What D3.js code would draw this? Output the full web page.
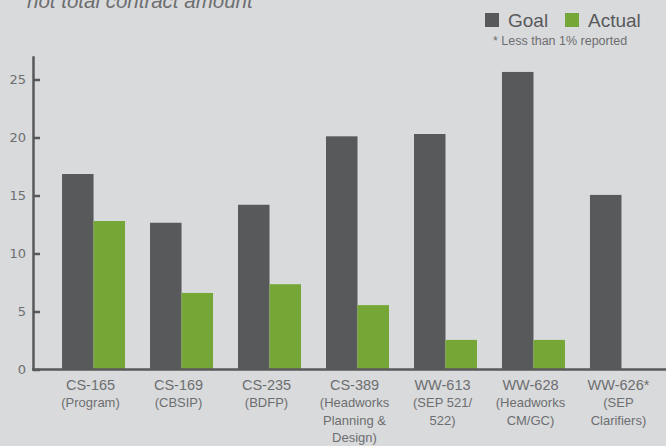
<!DOCTYPE html>
<html>
<head>
<meta charset="utf-8">
<script src="https://cdn.jsdelivr.net/npm/d3@7"></script>
<style>
  body { margin: 0; background: #d9dadc; }
  svg { display: block; }
  text { font-family: "Liberation Sans", Arial, sans-serif; }
</style>
</head>
<body>
<div class="chart"></div>
<script>
// projects and their sub-labels (multi-line)
var projects = ["CS-165", "CS-169", "CS-235", "CS-389", "WW-613", "WW-628", "WW-626*"];
var subLabels = [
  ["(Program)"],
  ["(CBSIP)"],
  ["(BDFP)"],
  ["(Headworks", "Planning &", "Design)"],
  ["(SEP 521/", "522)"],
  ["(Headworks", "CM/GC)"],
  ["(SEP", "Clarifiers)"]
];
var goal   = [16.85, 12.65, 14.2, 20.1, 20.3, 25.65, 15.05];
var actual = [12.8, 6.6, 7.35, 5.55, 2.55, 2.55, 0];
var yTicks = [0, 5, 10, 15, 20, 25];
var seriesNames = ["Goal", "Actual"];
var colors = {"Goal": "#58595b", "Actual": "#76a736"};

var width = 666, height = 446;

var svg = d3.select(".chart").append("svg")
    .attr("width", width)
    .attr("height", height);

svg.append("rect")
    .attr("width", width)
    .attr("height", height)
    .style("fill", "#d9dadc");

var x = d3.scaleBand()
    .domain(projects)
    .range([33, 682])
    .paddingInner(0.284)
    .paddingOuter(0.33);

var xSub = d3.scaleBand()
    .domain(seriesNames)
    .range([0, x.bandwidth()]);

var y = d3.scaleLinear()
    .domain([0, 27.05])
    .range([369.5, 55.7]);

// bars
var rows = projects.map(function(p, i) {
  return {name: p, values: [{key: "Goal", v: goal[i]}, {key: "Actual", v: actual[i]}]};
});

var groups = svg.selectAll(".group")
    .data(rows)
  .enter().append("g")
    .attr("class", "group")
    .attr("transform", function(d) { return "translate(" + x(d.name) + ",0)"; });

groups.selectAll("rect")
    .data(function(d) { return d.values; })
  .enter().append("rect")
    .attr("x", function(d) { return xSub(d.key); })
    .attr("width", xSub.bandwidth())
    .attr("y", function(d) { return y(d.v); })
    .attr("height", function(d) { return y(0) - y(d.v); })
    .style("fill", function(d) { return colors[d.key]; });

// y axis, ticks point inward
var yAxis = d3.axisLeft(y)
    .tickValues(yTicks)
    .tickSizeInner(-7)
    .tickSizeOuter(0)
    .tickPadding(7);

var gy = svg.append("g")
    .attr("transform", "translate(33,0)")
    .call(yAxis);
gy.select(".domain").style("stroke", "#58595b").style("stroke-width", 2.5);
gy.selectAll(".tick line").style("stroke", "#58595b").style("stroke-width", 2.5);
gy.selectAll(".tick text")
    .style("font-family", "'DejaVu Sans', sans-serif")
    .style("font-size", "13px")
    .style("fill", "#6d6e70");

// baseline
svg.append("line")
    .attr("x1", 32)
    .attr("x2", width)
    .attr("y1", y(0))
    .attr("y2", y(0))
    .style("stroke", "#58595b")
    .style("stroke-width", 2.5);

// x labels
var xl = svg.selectAll(".xlabel")
    .data(projects)
  .enter().append("text")
    .attr("class", "xlabel")
    .attr("text-anchor", "middle")
    .style("fill", "#6d6e70");

xl.append("tspan")
    .attr("x", function(d) { return x(d) + x.bandwidth() / 2 - 3; })
    .attr("y", 390)
    .style("font-size", "14.5px")
    .text(function(d) { return d; });

xl.each(function(d, i) {
  var t = d3.select(this);
  subLabels[i].forEach(function(s, j) {
    t.append("tspan")
        .attr("x", x(d) + x.bandwidth() / 2 - 3)
        .attr("y", 407 + j * 17.5)
        .style("font-size", "13px")
        .text(s);
  });
});

// title (cut off at top)
svg.append("text")
    .attr("x", 27)
    .attr("y", 8)
    .style("font-size", "20.5px")
    .style("font-style", "italic")
    .style("fill", "#6d6e70")
    .text("not total contract amount");

// legend
var legendX = [485, 565];
var legend = svg.selectAll(".legend")
    .data(seriesNames)
  .enter().append("g")
    .attr("class", "legend")
    .attr("transform", function(d, i) { return "translate(" + legendX[i] + ",13)"; });

legend.append("rect")
    .attr("width", 14)
    .attr("height", 14)
    .style("fill", function(d) { return colors[d]; });

legend.append("text")
    .attr("x", 23)
    .attr("y", 13.5)
    .style("font-size", "19px")
    .style("fill", "#58595b")
    .text(function(d) { return d; });

svg.append("text")
    .attr("x", 493)
    .attr("y", 45)
    .style("font-size", "12.5px")
    .style("fill", "#6d6e70")
    .text("* Less than 1% reported");
</script>
</body>
</html>
